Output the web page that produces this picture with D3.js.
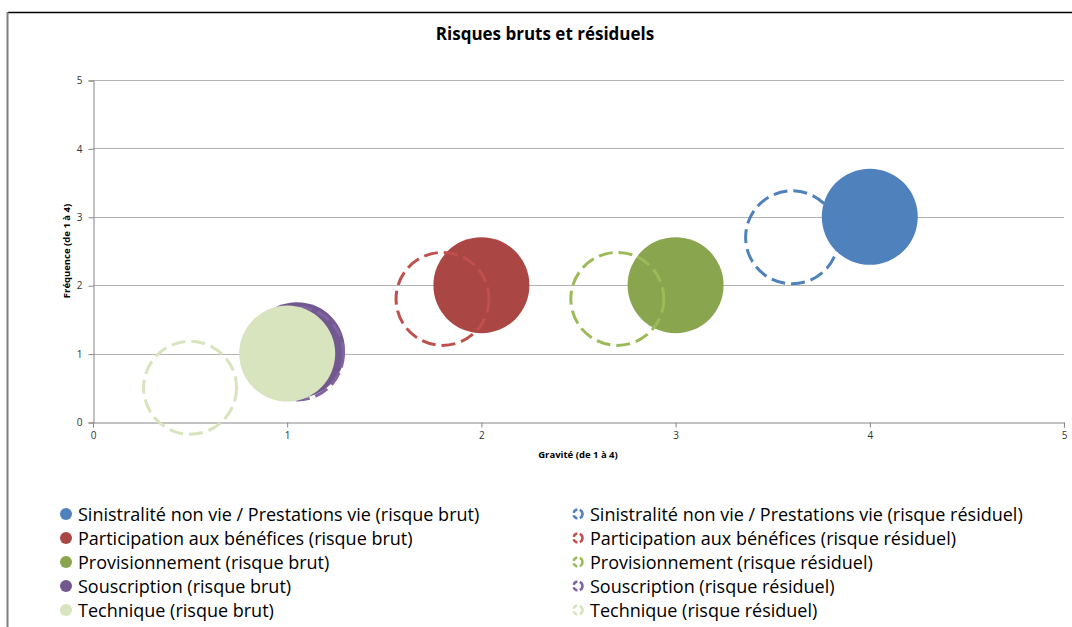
<!DOCTYPE html>
<html>
<head>
<meta charset="utf-8">
<script src="https://cdn.jsdelivr.net/npm/d3@7"></script>
<style>
  body { margin: 0; background: #fff; }
  svg { display: block; font-family: "Open Sans", sans-serif; }
</style>
</head>
<body>
<svg id="chart" width="1072" height="627"></svg>
<script>
// risk names, in legend order
var risks = ['Sinistralité non vie / Prestations vie', 'Participation aux bénéfices', 'Provisionnement', 'Souscription', 'Technique']
// gross risk (gravité, fréquence, size)
var brutX = [4, 2, 3, 1.05, 1]
var brutY = [3, 2, 2, 1.05, 1]
var brutSize = [1, 1, 1, 1, 1]
// residual risk
var residX = [3.6, 1.8, 2.7, 1.05, 0.5]
var residY = [2.7, 1.8, 1.8, 1.0, 0.5]
var residSize = [1, 1, 1, 1, 1]
var fillColors = ['#4F81BD', '#AA4643', '#89A54E', '#71588F', '#D7E4BD']
var lineColors = ['#4F81BD', '#C0504D', '#9BBB59', '#8064A2', '#D7E4BD']
var ticks = [0, 1, 2, 3, 4, 5]

var svg = d3.select('#chart')
var W = 1072, H = 627

var x = d3.scaleLinear().domain([0, 5]).range([93, 1064])
var y = d3.scaleLinear().domain([0, 5]).range([422, 80])
var r = d3.scaleSqrt().domain([0, 1]).range([0, 48])

// outer frame
svg.append('line').attr('x1', 8).attr('x2', W).attr('y1', 12.5).attr('y2', 12.5)
  .attr('stroke', '#000').attr('stroke-width', 1.5)
svg.append('line').attr('x1', 7.5).attr('x2', 7.5).attr('y1', 12).attr('y2', H)
  .attr('stroke', '#808080').attr('stroke-width', 2)

svg.append('text').attr('x', 545).attr('y', 40).attr('text-anchor', 'middle')
  .style('font-weight', 'bold').style('font-size', '17px').text('Risques bruts et résiduels')

// gridlines
svg.append('g').selectAll('line').data(ticks.slice(1)).join('line')
  .attr('x1', x(0)).attr('x2', x(5))
  .attr('y1', d => Math.round(y(d)) + 0.5).attr('y2', d => Math.round(y(d)) + 0.5)
  .attr('stroke', '#B3B3B3').attr('stroke-width', 1)

var yAxis = svg.append('g').attr('transform', 'translate(' + (x(0) + 0.5) + ',0.5)')
  .call(d3.axisLeft(y).tickValues(ticks).tickFormat(d3.format('d')).tickSize(5).tickPadding(6))
var xAxis = svg.append('g').attr('transform', 'translate(0,' + (y(0) + 0.5) + ')')
  .call(d3.axisBottom(x).tickValues(ticks).tickFormat(d3.format('d')).tickSize(5).tickPadding(4))
;[xAxis, yAxis].forEach(function (a) {
  a.selectAll('path, line').attr('stroke', '#868686')
  a.selectAll('text').attr('fill', '#333').style('font-size', '10px').style('font-family', '"Open Sans", sans-serif')
})

svg.append('text').attr('x', 578).attr('y', 458).attr('text-anchor', 'middle')
  .style('font-weight', 'bold').style('font-size', '9.5px').text('Gravité (de 1 à 4)')
svg.append('text').attr('transform', 'translate(70,251) rotate(-90)').attr('text-anchor', 'middle')
  .style('font-weight', 'bold').style('font-size', '9.5px').text('Fréquence (de 1 à 4)')

// bubbles: gross then residual for each risk, so later risks sit on top
var bubbles = svg.append('g')
risks.forEach(function (name, i) {
  bubbles.append('circle')
    .attr('cx', x(brutX[i])).attr('cy', y(brutY[i])).attr('r', r(brutSize[i]))
    .attr('fill', fillColors[i])
  bubbles.append('circle')
    .attr('cx', x(residX[i])).attr('cy', y(residY[i])).attr('r', r(residSize[i]) - 1.5)
    .attr('fill', 'none').attr('stroke', lineColors[i]).attr('stroke-width', 3)
    .attr('stroke-dasharray', '14,6')
})

// legend
var legend = svg.append('g').style('font-size', '18px')
risks.forEach(function (name, i) {
  var ly = 514 + i * 24
  legend.append('circle').attr('cx', 66).attr('cy', ly).attr('r', 6).attr('fill', fillColors[i])
  legend.append('text').attr('x', 78).attr('y', ly + 6.5).text(name + ' (risque brut)')
  legend.append('circle').attr('cx', 578).attr('cy', ly).attr('r', 4.5)
    .attr('fill', 'none').attr('stroke', lineColors[i]).attr('stroke-width', 2.5)
    .attr('stroke-dasharray', '5,2.5')
  legend.append('text').attr('x', 590).attr('y', ly + 6.5).text(name + ' (risque résiduel)')
})
</script>
</body>
</html>
